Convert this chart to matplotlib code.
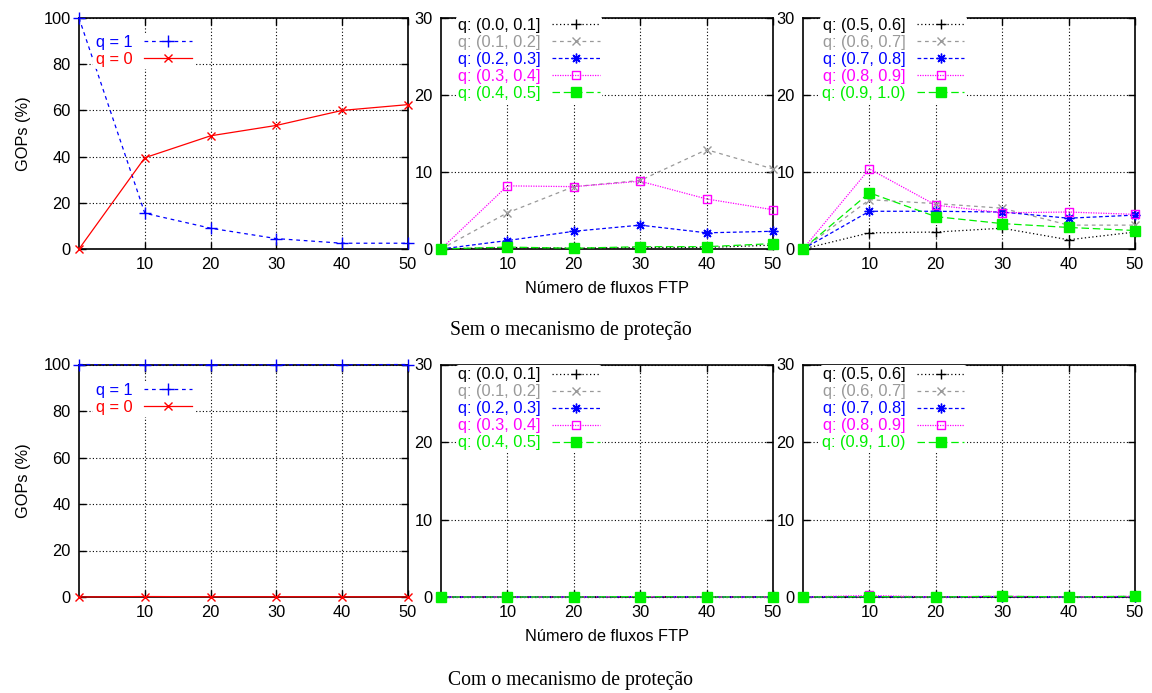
import matplotlib
matplotlib.use('Agg')
import matplotlib.pyplot as plt
from matplotlib.path import Path

plt.rcParams['font.family'] = ['Liberation Sans', 'DejaVu Sans']

# ---------------- data ----------------
x_flows = [0, 10, 20, 30, 40, 50]

# Sem o mecanismo de proteção (top row)
top_q1 = [100, 15.5, 9.0, 4.5, 2.5, 2.5]
top_q0 = [0, 39.5, 49.0, 53.5, 60.0, 62.5]

low_labels = ['q: (0.0, 0.1]', 'q: (0.1, 0.2]', 'q: (0.2, 0.3]', 'q: (0.3, 0.4]', 'q: (0.4, 0.5]']
high_labels = ['q: (0.5, 0.6]', 'q: (0.6, 0.7]', 'q: (0.7, 0.8]', 'q: (0.8, 0.9]', 'q: (0.9, 1.0)']

top_q00_01 = [0, 0.2, 0.1, 0.2, 0.2, 0.5]
top_q01_02 = [0, 4.7, 8.1, 8.9, 12.9, 10.4]
top_q02_03 = [0, 1.1, 2.3, 3.1, 2.1, 2.3]
top_q03_04 = [0, 8.2, 8.1, 8.8, 6.5, 5.1]
top_q04_05 = [0, 0.25, 0.1, 0.3, 0.3, 0.7]

top_q05_06 = [0, 2.1, 2.2, 2.7, 1.2, 2.2]
top_q06_07 = [0, 6.4, 5.9, 5.3, 3.1, 3.1]
top_q07_08 = [0, 4.9, 4.9, 4.8, 4.0, 4.4]
top_q08_09 = [0, 10.4, 5.7, 4.7, 4.8, 4.5]
top_q09_10 = [0, 7.3, 4.2, 3.3, 2.8, 2.4]

# Com o mecanismo de proteção (bottom row)
bot_q1 = [100, 99.8, 99.9, 99.9, 99.9, 100]
bot_q0 = [0, 0.2, 0.1, 0.1, 0.1, 0]

bot_q00_01 = [0, 0, 0, 0, 0, 0]
bot_q01_02 = [0, 0, 0, 0.05, 0, 0]
bot_q02_03 = [0, 0, 0, 0.05, 0, 0]
bot_q03_04 = [0, 0, 0, 0.05, 0, 0]
bot_q04_05 = [0, 0, 0, 0.05, 0, 0]

bot_q05_06 = [0, 0, 0, 0, 0, 0]
bot_q06_07 = [0, 0.05, 0, 0.05, 0, 0.05]
bot_q07_08 = [0, 0.05, 0, 0.05, 0, 0.05]
bot_q08_09 = [0, 0.2, 0, 0.1, 0, 0.1]
bot_q09_10 = [0, 0.05, 0, 0.1, 0, 0.1]

x_ticks = [10, 20, 30, 40, 50]
y_ticks_all = [0, 20, 40, 60, 80, 100]
y_ticks_part = [0, 10, 20, 30]

# ---------------- styles ----------------
FS = 11.8
series_colors = ['black', '#999999', '#0000ff', '#ff00ff', '#00f000']
series_ls = [(0, (1, 2)), (0, (3, 3)), (0, (3, 2)), (0, (1, 1)), (0, (6, 3))]

# open square with a dot in the middle (gnuplot point type 4)
_sq = [(-1, -1), (1, -1), (1, 1), (-1, 1), (-1, -1)]
_dot = [(-0.12, -0.12), (0.12, -0.12), (0.12, 0.12), (-0.12, 0.12), (-0.12, -0.12)]
_codes = [Path.MOVETO, Path.LINETO, Path.LINETO, Path.LINETO, Path.CLOSEPOLY]
dotted_square = Path(_sq + _dot, _codes + _codes)

series_marker = ['+', 'x', (8, 2, 0), dotted_square, 's']
series_ms = [7.5, 6, 7, 5.5, 6.5]

W, H = 1152, 693
fig = plt.figure(figsize=(W / 100, H / 100), dpi=100)


def ax_at(x0, y0, x1, y1):
    return fig.add_axes([x0 / W, 1 - y1 / H, (x1 - x0) / W, (y1 - y0) / H])


def style_axes(ax, yticks, ymax):
    ax.set_xlim(0, 50)
    ax.set_ylim(0, ymax)
    ax.set_xticks(x_ticks)
    ax.set_yticks(yticks)
    ax.tick_params(direction='in', length=5, width=1, top=True, right=True,
                   labelsize=FS, pad=6)
    ax.grid(True, color='black', linestyle=(0, (1, 2)), linewidth=0.8)
    ax.set_axisbelow(True)
    for s in ax.spines.values():
        s.set_linewidth(1.2)


def legend(ax, handles, labels, colors, anchor):
    leg = ax.legend(handles, labels, loc='upper left', bbox_to_anchor=anchor,
                    frameon=True, facecolor='white', edgecolor='none', framealpha=1,
                    borderpad=0.15, borderaxespad=0, handlelength=2.9,
                    handletextpad=0.7, labelspacing=0.12, fontsize=FS,
                    markerfirst=False, labelcolor=colors, numpoints=1)
    leg.set_zorder(5)
    return leg


def panel_all(ax, q1, q0, anchor):
    style_axes(ax, y_ticks_all, 100)
    l1, = ax.plot(x_flows, q1, color='#0000ff', linestyle=(0, (3, 3)), lw=0.9,
                  marker='+', ms=8, mew=1, clip_on=False, zorder=3)
    l0, = ax.plot(x_flows, q0, color='#ff0000', linestyle='-', lw=0.9,
                  marker='x', ms=6, mew=1, clip_on=False, zorder=3)
    legend(ax, [l1, l0], ['q = 1', 'q = 0'], ['#0000ff', '#ff0000'], anchor)
    ax.set_ylabel('GOPs (%)', fontsize=FS, labelpad=9)


def panel_part(ax, series, labels, anchor):
    style_axes(ax, y_ticks_part, 30)
    handles = []
    for i, (ys, c, ls, m, ms) in enumerate(zip(series, series_colors, series_ls,
                                               series_marker, series_ms)):
        if i == 3:
            ln, = ax.plot(x_flows, ys, color=c, linestyle=ls, lw=0.9, marker=m,
                          ms=ms, mfc='none', mec=c, mew=1, clip_on=False, zorder=3)
        elif i == 4:
            ln, = ax.plot(x_flows, ys, color=c, linestyle=ls, lw=0.9, marker=m,
                          ms=ms, mfc=c, mec=c, clip_on=False, zorder=3.5)
        else:
            ln, = ax.plot(x_flows, ys, color=c, linestyle=ls, lw=0.9, marker=m,
                          ms=ms, mew=1, clip_on=False, zorder=3)
        handles.append(ln)
    legend(ax, handles, labels, series_colors, anchor)


# top row
axA = ax_at(79, 18, 408, 249)
axB = ax_at(441, 18, 773, 249)
axC = ax_at(803, 18, 1135, 249)
panel_all(axA, top_q1, top_q0, (0.044, 0.937))
panel_part(axB, [top_q00_01, top_q01_02, top_q02_03, top_q03_04, top_q04_05],
           low_labels, (0.044, 1.010))
panel_part(axC, [top_q05_06, top_q06_07, top_q07_08, top_q08_09, top_q09_10],
           high_labels, (0.05, 1.010))
axB.set_xlabel('Número de fluxos FTP', fontsize=FS, labelpad=6)

# bottom row
axD = ax_at(79, 364.5, 408, 597)
axE = ax_at(441, 364.5, 773, 597)
axF = ax_at(803, 364.5, 1135, 597)
panel_all(axD, bot_q1, bot_q0, (0.044, 0.931))
panel_part(axE, [bot_q00_01, bot_q01_02, bot_q02_03, bot_q03_04, bot_q04_05],
           low_labels, (0.044, 0.998))
panel_part(axF, [bot_q05_06, bot_q06_07, bot_q07_08, bot_q08_09, bot_q09_10],
           high_labels, (0.05, 0.998))
axE.set_xlabel('Número de fluxos FTP', fontsize=FS, labelpad=6)

cap_font = ['Liberation Serif']
fig.text(571 / W, 1 - 331 / H, 'Sem o mecanismo de proteção', ha='center', va='center',
         fontsize=14.2, family=cap_font)
fig.text(571 / W, 1 - 681 / H, 'Com o mecanismo de proteção', ha='center', va='center',
         fontsize=14.2, family=cap_font)

fig.savefig('out.png', dpi=100)
